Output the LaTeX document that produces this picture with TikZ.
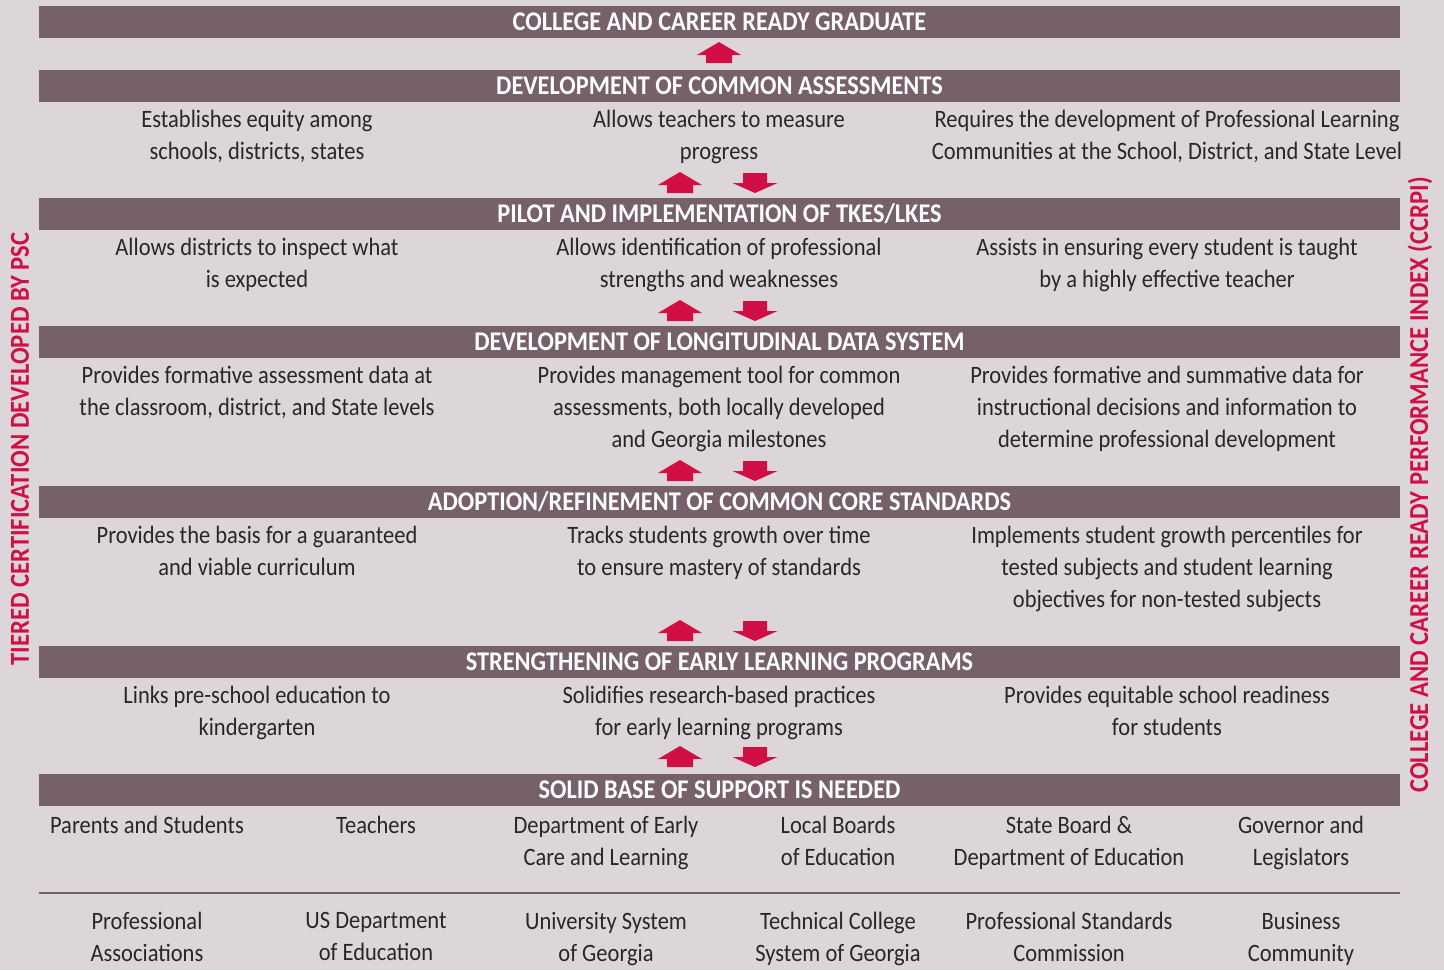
\documentclass[tikz,border=0pt]{standalone}
\usepackage{fontspec}
\setmainfont{Carlito}[FakeStretch=0.9]
\definecolor{bgpink}{HTML}{DCD6DA}
\definecolor{barmauve}{HTML}{76616A}
\definecolor{arrowred}{HTML}{D20F45}
\definecolor{textdark}{HTML}{2A2526}
% block arrows, given centre x and bottom y (pixel units, y down)
\newcommand{\arrup}[2]{\fill[arrowred] (#1-13,#2) -- (#1-13,#2-8) -- (#1-22,#2-8) -- (#1,#2-21) -- (#1+22,#2-8) -- (#1+13,#2-8) -- (#1+13,#2) -- cycle;}
\newcommand{\arrdown}[2]{\fill[arrowred] (#1-12,#2-20) -- (#1-12,#2-10) -- (#1-22.5,#2-10) -- (#1,#2) -- (#1+22.5,#2-10) -- (#1+12,#2-10) -- (#1+12,#2-20) -- cycle;}
\tikzset{
  bar/.style={fill=barmauve, text=white, font=\bfseries\fontsize{13.5}{15}\selectfont,
    minimum width=680.5pt, minimum height=16pt, inner sep=0pt},
  body/.style={text=textdark, align=center, anchor=north, inner sep=0pt,
    font=\fontsize{12.5}{16}\selectfont},
  sidelabel/.style={text=arrowred, font=\bfseries\fontsize{13.7}{15}\selectfont, rotate=90}
}
\begin{document}
\begin{tikzpicture}[x=0.5pt, y=-0.5pt]
  \fill[bgpink] (0,0) rectangle (1444,970);
  \useasboundingbox (0,0) rectangle (1444,970);

  % bars
  \node [bar] (grad)  at (719.5,22)  {COLLEGE AND CAREER READY GRADUATE};
  \node [bar] (assess) at (719.5,86)  {DEVELOPMENT OF COMMON ASSESSMENTS};
  \node [bar] (tkes)  at (719.5,214) {PILOT AND IMPLEMENTATION OF TKES/LKES};
  \node [bar] (data)  at (719.5,342) {DEVELOPMENT OF LONGITUDINAL DATA SYSTEM};
  \node [bar] (core)  at (719.5,502) {ADOPTION/REFINEMENT OF COMMON CORE STANDARDS};
  \node [bar] (early) at (719.5,662) {STRENGTHENING OF EARLY LEARNING PROGRAMS};
  \node [bar] (base)  at (719.5,790) {SOLID BASE OF SUPPORT IS NEEDED};

  % arrows
  \arrup{719}{63}
  \foreach \b in {193,321,481,641,767} {
    \arrup{680}{\b}
    \arrdown{755}{\b}
  }

  % assessments
  \node [body] (a1) at (257,110) {Establishes equity among\\schools, districts, states};
  \node [body] (a2) at (719,110) {Allows teachers to measure\\progress};
  \node [body] (a3) at (1167,110) {Requires the development of Professional Learning\\Communities at the School, District, and State Level};
  % tkes/lkes
  \node [body] (t1) at (257,238) {Allows districts to inspect what\\is expected};
  \node [body] (t2) at (719,238) {Allows identification of professional\\strengths and weaknesses};
  \node [body] (t3) at (1167,238) {Assists in ensuring every student is taught\\by a highly effective teacher};
  % data system
  \node [body] (d1) at (257,366) {Provides formative assessment data at\\the classroom, district, and State levels};
  \node [body] (d2) at (719,366) {Provides management tool for common\\assessments, both locally developed\\and Georgia milestones};
  \node [body] (d3) at (1167,366) {Provides formative and summative data for\\instructional decisions and information to\\determine professional development};
  % common core
  \node [body] (c1) at (257,526) {Provides the basis for a guaranteed\\and viable curriculum};
  \node [body] (c2) at (719,526) {Tracks students growth over time\\to ensure mastery of standards};
  \node [body] (c3) at (1167,526) {Implements student growth percentiles for\\tested subjects and student learning\\objectives for non-tested subjects};
  % early learning
  \node [body] (e1) at (257,686) {Links pre-school education to\\kindergarten};
  \node [body] (e2) at (719,686) {Solidifies research-based practices\\for early learning programs};
  \node [body] (e3) at (1167,686) {Provides equitable school readiness\\for students};

  % support
  \node [body] (s1) at (147,816)  {Parents and Students};
  \node [body] (s2) at (376,816)  {Teachers};
  \node [body] (s3) at (606,816)  {Department of Early\\Care and Learning};
  \node [body] (s4) at (838,816)  {Local Boards\\of Education};
  \node [body] (s5) at (1069,816) {State Board \&\\Department of Education};
  \node [body] (s6) at (1301,816) {Governor and\\Legislators};
  \draw [barmauve, line width=1pt] (39,893) -- (1400,893);
  \node [body] (p1) at (147,912)  {Professional\\Associations};
  \node [body] (p2) at (376,912)  {US Department\\of Education};
  \node [body] (p3) at (606,912)  {University System\\of Georgia};
  \node [body] (p4) at (838,912)  {Technical College\\System of Georgia};
  \node [body] (p5) at (1069,912) {Professional Standards\\Commission};
  \node [body] (p6) at (1301,912) {Business\\Community};

  % side labels
  \node [sidelabel] (psc)   at (20,449)   {TIERED CERTIFICATION DEVELOPED BY PSC};
  \node [sidelabel] (ccrpi) at (1420,485) {COLLEGE AND CAREER READY PERFORMANCE INDEX (CCRPI)};
\end{tikzpicture}
\end{document}
